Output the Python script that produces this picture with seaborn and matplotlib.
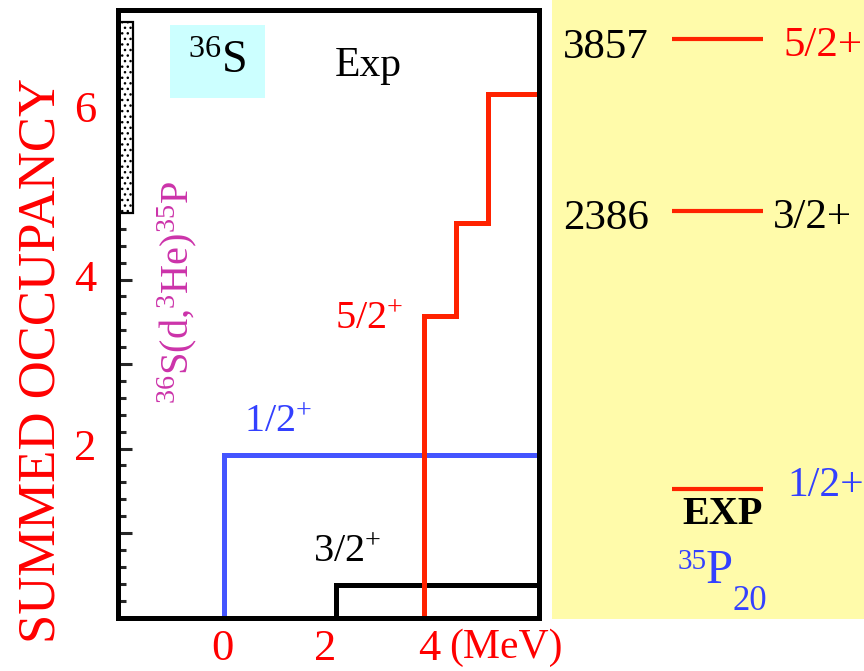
import matplotlib
matplotlib.use("Agg")
import matplotlib.pyplot as plt
from matplotlib.patches import Rectangle
from matplotlib.ticker import MultipleLocator
import pandas as pd
import seaborn as sns

# Summed spectroscopic strength from 36S(d,3He)35P, energies in MeV
half_E = [0.03]
half_sum = [1.92]
three_E = [2.2]
three_sum = [0.38]
five_E = [3.9, 4.52, 5.14]
five_sum = [3.57, 4.67, 6.20]

x_ticks = [0, 2, 4]
x_ticklabels = ["0", "2", "4"]
y_ticks = [2, 4, 6]
y_ticklabels = ["2", "4", "6"]

# 35P experimental levels (keV)
level_E = [0, 2386, 3857]
level_J = ["1/2+", "3/2+", "5/2+"]

W, H = 864, 671
XLIM = (-2.02, 6.12)
YLIM = (0, 7.19)

RED_LINE = "#FF2200"
RED_TXT = "#FF0000"
BLUE_LINE = "#4455FF"
BLUE_TXT = "#3340FF"
MAGENTA = "#CC33AA"
SERIF = "Liberation Serif"

sns.set_style("white")
plt.rcParams["font.family"] = [SERIF, "DejaVu Serif"]
plt.rcParams["font.serif"] = [SERIF, "DejaVu Serif"]
plt.rcParams["mathtext.fontset"] = "custom"
plt.rcParams["mathtext.rm"] = SERIF
plt.rcParams["mathtext.it"] = SERIF + ":italic"
plt.rcParams["mathtext.bf"] = SERIF + ":bold"
plt.rcParams["mathtext.default"] = "rm"


def fx(px):
    return px / W


def fy(py):
    return 1 - py / H


def steps(E, s, xmax):
    xs, ys = [E[0]], [0.0]
    for i, (e, v) in enumerate(zip(E, s)):
        if i > 0:
            xs.append(e)
            ys.append(s[i - 1])
        xs.append(e)
        ys.append(v)
    xs.append(xmax)
    ys.append(s[-1])
    return pd.DataFrame({"E": xs, "sum": ys})


fig = plt.figure(figsize=(W / 100, H / 100), dpi=100)
fig.patch.set_facecolor("white")

# ---- main panel: summed occupancy ----
ax = fig.add_axes([fx(117.5), fy(617.5), (538.5 - 117.5) / W, (617.5 - 10) / H])
ax.set_xlim(*XLIM)
ax.set_ylim(*YLIM)

for E, s, c in [(half_E, half_sum, BLUE_LINE),
                (three_E, three_sum, "black"),
                (five_E, five_sum, RED_LINE)]:
    sns.lineplot(data=steps(E, s, XLIM[1]), x="E", y="sum", sort=False,
                 estimator=None, color=c, lw=3.6, ax=ax,
                 solid_joinstyle="miter", solid_capstyle="butt", zorder=2)

for sp in ax.spines.values():
    sp.set_visible(True)
    sp.set_linewidth(3.6)
    sp.set_color("black")
    sp.set_zorder(5)

ax.set_xticks(x_ticks)
ax.set_xticklabels(x_ticklabels, fontfamily=SERIF)
ax.yaxis.set_major_locator(MultipleLocator(1))
ax.yaxis.set_minor_locator(MultipleLocator(0.2))
ax.set_yticklabels([])
ax.tick_params(axis="x", length=0, pad=8, labelsize=32, labelcolor=RED_TXT)
ax.tick_params(axis="y", which="major", direction="in", length=10, width=2.2,
               left=True, right=False)
ax.tick_params(axis="y", which="minor", direction="in", length=5.5, width=2.2,
               left=True, right=False)
ax.set_xlabel("")
ax.set_ylabel("")

# y tick labels, drawn outside the frame
for v, lab in zip(y_ticks, y_ticklabels):
    ax.annotate(lab, xy=(0, v), xycoords=("axes fraction", "data"),
                xytext=(-15, 0), textcoords="offset points", family=SERIF,
                ha="right", va="center", fontsize=32, color=RED_TXT)

# striped marker bar on the left edge
ax.add_patch(Rectangle((XLIM[0], 4.79), 0.30, 7.05 - 4.79, facecolor="white",
                       edgecolor="black", hatch="...", lw=1.6, zorder=4,
                       clip_on=False))

# ---- right panel: 35P experimental levels ----
ax2 = fig.add_axes([fx(552), fy(619), (W - 552) / W, 619 / H])
ax2.set_facecolor("#FFFBAA")
ax2.set_xlim(552, 864)
ax2.set_ylim(-1115, 4192)
for sp in ax2.spines.values():
    sp.set_visible(False)
ax2.set_xticks([])
ax2.set_yticks([])
ax2.hlines(level_E, 672, 763, color=RED_LINE, lw=3.0)

for E, J in zip(level_E, level_J):
    if E > 0:
        ax2.annotate(str(E), xy=(563, E), xytext=(0, -6), textcoords="offset points",
                     ha="left", va="center", fontsize=31, color="black", family=SERIF)
        ax2.annotate(J, xy=(773 if J == "3/2+" else 783, E), xytext=(0, -5),
                     textcoords="offset points", ha="left", va="center", family=SERIF,
                     fontsize=31, color=RED_TXT if J == "5/2+" else "black")
    else:
        ax2.annotate(J, xy=(787, E), xytext=(0, 2), textcoords="offset points",
                     ha="left", va="center", fontsize=30, color=BLUE_TXT, family=SERIF)

fig.text(fx(723), fy(514), "EXP", ha="center", va="center", fontsize=29,
         fontweight="bold", color="black", family=SERIF)
fig.text(fx(678), fy(569), "35", ha="left", va="baseline", fontsize=21,
         color=BLUE_TXT, family=SERIF)
fig.text(fx(706), fy(583), "P", ha="left", va="baseline", fontsize=35,
         color=BLUE_TXT, family=SERIF)
fig.text(fx(732), fy(610), "20", ha="left", va="baseline", fontsize=25,
         color=BLUE_TXT, family=SERIF)

# ---- annotations in the main panel ----
fig.patches.append(Rectangle((fx(170), fy(98)), (265 - 170) / W, (98 - 25) / H,
                             transform=fig.transFigure, facecolor="#CCFFFF",
                             edgecolor="none", zorder=6))
fig.text(fx(217), fy(62), r"$^{36}$S", ha="center", va="center", fontsize=33,
         color="black", zorder=7, family=SERIF)
fig.text(fx(335), fy(76), "Exp", ha="left", va="baseline", fontsize=30,
         color="black", family=SERIF)
fig.text(fx(177), fy(292), r"$^{36}$S(d,$^{3}$He)$^{35}$P", rotation=90,
         ha="center", va="center", fontsize=29, color=MAGENTA, family=SERIF)
fig.text(fx(278), fy(423), r"$1/2^{+}$", ha="center", va="center", fontsize=29,
         color=BLUE_TXT, family=SERIF)
fig.text(fx(369), fy(320), r"$5/2^{+}$", ha="center", va="center", fontsize=29,
         color=RED_TXT, family=SERIF)
fig.text(fx(347), fy(552), r"$3/2^{+}$", ha="center", va="center", fontsize=29,
         color="black", family=SERIF)
fig.text(fx(449), fy(648), "(MeV)", ha="left", va="center", fontsize=30,
         color=RED_TXT, family=SERIF)
fig.text(fx(42), fy(360), "SUMMED OCCUPANCY", rotation=90, ha="center",
         va="center", fontsize=38, color=RED_TXT, family=SERIF)

fig.savefig("out.png", dpi=100, facecolor="white")
